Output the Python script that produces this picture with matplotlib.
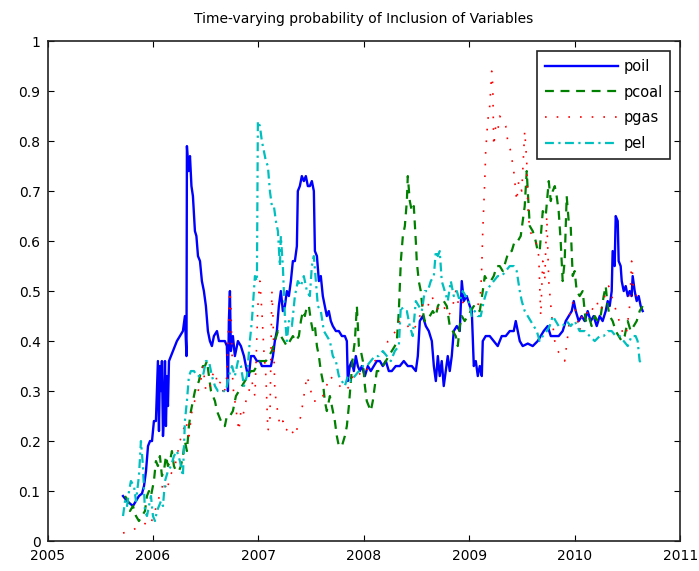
import numpy as np
import matplotlib
matplotlib.use("Agg")
import matplotlib.pyplot as plt

# valores (anio decimal, probabilidad)
poil_t = [2005.716, 2005.754, 2005.782, 2005.810, 2005.839, 2005.867, 2005.896, 2005.915, 2005.934, 2005.953,
          2005.972, 2005.991, 2006.009, 2006.028, 2006.047, 2006.057, 2006.066, 2006.076, 2006.085, 2006.095,
          2006.104, 2006.114, 2006.123, 2006.133, 2006.142, 2006.152, 2006.171, 2006.190, 2006.209, 2006.227,
          2006.256, 2006.284, 2006.303, 2006.318, 2006.322, 2006.337, 2006.351, 2006.365, 2006.379, 2006.398,
          2006.412, 2006.427, 2006.446, 2006.464, 2006.483, 2006.502, 2006.521, 2006.540, 2006.559, 2006.578,
          2006.607, 2006.626, 2006.654, 2006.682, 2006.701, 2006.711, 2006.720, 2006.730, 2006.739, 2006.758,
          2006.777, 2006.806, 2006.834, 2006.863, 2006.891, 2006.910, 2006.929, 2006.957, 2006.986, 2007.014,
          2007.033, 2007.062, 2007.090, 2007.119, 2007.138, 2007.156, 2007.175, 2007.194, 2007.213, 2007.232,
          2007.251, 2007.270, 2007.289, 2007.308, 2007.327, 2007.346, 2007.365, 2007.374, 2007.393, 2007.412,
          2007.431, 2007.450, 2007.469, 2007.488, 2007.507, 2007.526, 2007.536, 2007.555, 2007.574, 2007.592,
          2007.611, 2007.630, 2007.649, 2007.668, 2007.687, 2007.706, 2007.735, 2007.763, 2007.792, 2007.820,
          2007.839, 2007.848, 2007.867, 2007.886, 2007.905, 2007.924, 2007.943, 2007.962, 2007.981, 2008.010,
          2008.038, 2008.066, 2008.095, 2008.123, 2008.152, 2008.180, 2008.209, 2008.237, 2008.265, 2008.303,
          2008.341, 2008.379, 2008.417, 2008.455, 2008.493, 2008.512, 2008.531, 2008.559, 2008.588, 2008.616,
          2008.645, 2008.664, 2008.683, 2008.702, 2008.720, 2008.739, 2008.758, 2008.777, 2008.796, 2008.815,
          2008.834, 2008.853, 2008.882, 2008.910, 2008.929, 2008.948, 2008.976, 2009.005, 2009.024, 2009.043,
          2009.062, 2009.081, 2009.100, 2009.119, 2009.128, 2009.156, 2009.194, 2009.232, 2009.270, 2009.308,
          2009.346, 2009.384, 2009.422, 2009.441, 2009.460, 2009.479, 2009.507, 2009.555, 2009.602, 2009.649,
          2009.678, 2009.706, 2009.744, 2009.773, 2009.811, 2009.848, 2009.886, 2009.915, 2009.943, 2009.972,
          2009.991, 2010.010, 2010.038, 2010.066, 2010.095, 2010.123, 2010.152, 2010.180, 2010.209, 2010.237,
          2010.265, 2010.294, 2010.313, 2010.332, 2010.351, 2010.360, 2010.379, 2010.389, 2010.408, 2010.417,
          2010.436, 2010.446, 2010.465, 2010.484, 2010.503, 2010.521, 2010.540, 2010.550, 2010.569, 2010.588,
          2010.607, 2010.626, 2010.645]
poil_v = [0.09, 0.08, 0.075, 0.07, 0.08, 0.09, 0.095, 0.11, 0.14, 0.19,
          0.20, 0.20, 0.24, 0.24, 0.36, 0.22, 0.35, 0.30, 0.36, 0.21,
          0.25, 0.36, 0.23, 0.33, 0.27, 0.36, 0.37, 0.38, 0.39, 0.40,
          0.41, 0.42, 0.45, 0.37, 0.79, 0.74, 0.77, 0.71, 0.69, 0.62,
          0.61, 0.57, 0.56, 0.52, 0.50, 0.47, 0.42, 0.40, 0.39, 0.41,
          0.42, 0.40, 0.40, 0.40, 0.39, 0.30, 0.44, 0.50, 0.38, 0.41,
          0.37, 0.40, 0.39, 0.37, 0.34, 0.33, 0.37, 0.37, 0.36, 0.36,
          0.35, 0.35, 0.35, 0.35, 0.37, 0.40, 0.42, 0.47, 0.50, 0.46,
          0.47, 0.50, 0.49, 0.52, 0.56, 0.56, 0.59, 0.70, 0.71, 0.73,
          0.72, 0.73, 0.71, 0.71, 0.72, 0.70, 0.58, 0.57, 0.52, 0.53,
          0.49, 0.47, 0.45, 0.46, 0.44, 0.43, 0.42, 0.42, 0.41, 0.41,
          0.40, 0.32, 0.35, 0.36, 0.34, 0.37, 0.35, 0.34, 0.35, 0.33,
          0.35, 0.34, 0.35, 0.36, 0.36, 0.35, 0.36, 0.34, 0.34, 0.35,
          0.35, 0.36, 0.35, 0.35, 0.34, 0.37, 0.44, 0.45, 0.43, 0.42,
          0.40, 0.35, 0.32, 0.37, 0.33, 0.36, 0.31, 0.34, 0.37, 0.34,
          0.37, 0.42, 0.43, 0.42, 0.52, 0.48, 0.49, 0.47, 0.46, 0.35,
          0.36, 0.33, 0.35, 0.33, 0.40, 0.41, 0.41, 0.40, 0.39, 0.41,
          0.41, 0.42, 0.42, 0.44, 0.42, 0.40, 0.39, 0.395, 0.39, 0.40,
          0.41, 0.42, 0.43, 0.41, 0.41, 0.41, 0.42, 0.44, 0.45, 0.46,
          0.48, 0.46, 0.44, 0.45, 0.44, 0.46, 0.44, 0.45, 0.43, 0.45,
          0.44, 0.46, 0.48, 0.47, 0.50, 0.58, 0.55, 0.65, 0.64, 0.56,
          0.55, 0.52, 0.50, 0.51, 0.49, 0.50, 0.49, 0.53, 0.50, 0.48,
          0.49, 0.47, 0.46]

pcoal_t = [2005.735, 2005.763, 2005.782, 2005.810, 2005.839, 2005.867, 2005.896, 2005.924, 2005.943, 2005.962,
           2005.981, 2006.009, 2006.028, 2006.047, 2006.066, 2006.085, 2006.104, 2006.123, 2006.142, 2006.161,
           2006.180, 2006.199, 2006.218, 2006.246, 2006.265, 2006.284, 2006.303, 2006.322, 2006.341, 2006.360,
           2006.379, 2006.398, 2006.417, 2006.436, 2006.455, 2006.474, 2006.493, 2006.512, 2006.531, 2006.550,
           2006.569, 2006.588, 2006.607, 2006.626, 2006.645, 2006.664, 2006.682, 2006.701, 2006.730, 2006.758,
           2006.787, 2006.815, 2006.844, 2006.872, 2006.901, 2006.929, 2006.957, 2006.986, 2007.014, 2007.043,
           2007.071, 2007.100, 2007.128, 2007.156, 2007.185, 2007.213, 2007.242, 2007.270, 2007.299, 2007.327,
           2007.355, 2007.384, 2007.403, 2007.422, 2007.441, 2007.460, 2007.479, 2007.498, 2007.517, 2007.536,
           2007.555, 2007.574, 2007.592, 2007.611, 2007.630, 2007.649, 2007.678, 2007.697, 2007.725, 2007.744,
           2007.763, 2007.792, 2007.820, 2007.839, 2007.858, 2007.877, 2007.896, 2007.915, 2007.934, 2007.953,
           2007.972, 2007.991, 2008.010, 2008.028, 2008.047, 2008.066, 2008.085, 2008.104, 2008.123, 2008.152,
           2008.180, 2008.209, 2008.237, 2008.265, 2008.294, 2008.313, 2008.332, 2008.351, 2008.370, 2008.389,
           2008.408, 2008.417, 2008.436, 2008.455, 2008.474, 2008.493, 2008.502, 2008.521, 2008.540, 2008.559,
           2008.578, 2008.597, 2008.626, 2008.654, 2008.683, 2008.702, 2008.730, 2008.758, 2008.787, 2008.815,
           2008.844, 2008.872, 2008.891, 2008.910, 2008.929, 2008.957, 2008.986, 2009.014, 2009.043, 2009.071,
           2009.100, 2009.128, 2009.147, 2009.175, 2009.204, 2009.232, 2009.261, 2009.289, 2009.318, 2009.346,
           2009.374, 2009.403, 2009.431, 2009.460, 2009.488, 2009.507, 2009.526, 2009.545, 2009.555, 2009.574,
           2009.602, 2009.630, 2009.649, 2009.668, 2009.697, 2009.725, 2009.754, 2009.773, 2009.792, 2009.811,
           2009.829, 2009.848, 2009.867, 2009.886, 2009.905, 2009.924, 2009.943, 2009.962, 2009.981, 2010.000,
           2010.019, 2010.047, 2010.076, 2010.104, 2010.133, 2010.161, 2010.190, 2010.218, 2010.246, 2010.275,
           2010.294, 2010.313, 2010.332, 2010.360, 2010.389, 2010.417, 2010.446, 2010.474, 2010.503, 2010.531,
           2010.559, 2010.588, 2010.616, 2010.645]
pcoal_v = [0.09, 0.08, 0.06, 0.07, 0.05, 0.04, 0.05, 0.06, 0.09, 0.10,
           0.09, 0.12, 0.16, 0.15, 0.17, 0.13, 0.14, 0.17, 0.15, 0.16,
           0.18, 0.15, 0.14, 0.14, 0.15, 0.17, 0.20, 0.18, 0.23, 0.26,
           0.28, 0.30, 0.31, 0.32, 0.34, 0.35, 0.35, 0.36, 0.33, 0.30,
           0.29, 0.28, 0.26, 0.25, 0.24, 0.23, 0.23, 0.25, 0.25, 0.26,
           0.29, 0.30, 0.31, 0.32, 0.33, 0.34, 0.34, 0.35, 0.36, 0.36,
           0.36, 0.37, 0.38, 0.40, 0.42, 0.41, 0.40, 0.39, 0.40, 0.41,
           0.40, 0.41, 0.44, 0.46, 0.45, 0.47, 0.47, 0.44, 0.42, 0.43,
           0.39, 0.37, 0.34, 0.32, 0.28, 0.26, 0.29, 0.27, 0.24, 0.21,
           0.19, 0.19, 0.21, 0.23, 0.27, 0.32, 0.37, 0.40, 0.47, 0.39,
           0.38, 0.36, 0.31, 0.28, 0.27, 0.26, 0.28, 0.31, 0.34, 0.34,
           0.35, 0.36, 0.37, 0.38, 0.39, 0.40, 0.46, 0.56, 0.61, 0.63,
           0.68, 0.73, 0.68, 0.66, 0.67, 0.60, 0.56, 0.52, 0.50, 0.46,
           0.44, 0.44, 0.45, 0.46, 0.45, 0.47, 0.48, 0.48, 0.47, 0.43,
           0.42, 0.41, 0.39, 0.43, 0.45, 0.44, 0.45, 0.46, 0.47, 0.46,
           0.46, 0.50, 0.53, 0.52, 0.52, 0.53, 0.55, 0.55, 0.54, 0.56,
           0.58, 0.58, 0.60, 0.60, 0.61, 0.64, 0.67, 0.74, 0.70, 0.63,
           0.62, 0.60, 0.58, 0.58, 0.66, 0.65, 0.72, 0.68, 0.70, 0.71,
           0.69, 0.66, 0.60, 0.52, 0.56, 0.69, 0.64, 0.63, 0.53, 0.54,
           0.50, 0.49, 0.50, 0.44, 0.45, 0.43, 0.45, 0.44, 0.45, 0.49,
           0.51, 0.47, 0.45, 0.44, 0.42, 0.41, 0.40, 0.41, 0.44, 0.42,
           0.43, 0.44, 0.46, 0.47]

pgas_t = [2005.716, 2005.791, 2005.877, 2005.924, 2005.972, 2006.019, 2006.047, 2006.076, 2006.104, 2006.133,
          2006.161, 2006.209, 2006.256, 2006.284, 2006.313, 2006.341, 2006.370, 2006.408, 2006.446, 2006.474,
          2006.502, 2006.531, 2006.559, 2006.588, 2006.616, 2006.645, 2006.673, 2006.701, 2006.720, 2006.730,
          2006.739, 2006.758, 2006.777, 2006.796, 2006.815, 2006.834, 2006.853, 2006.882, 2006.910, 2006.938,
          2006.967, 2006.995, 2007.014, 2007.033, 2007.052, 2007.071, 2007.090, 2007.109, 2007.128, 2007.138,
          2007.156, 2007.175, 2007.204, 2007.232, 2007.261, 2007.289, 2007.318, 2007.346, 2007.374, 2007.403,
          2007.431, 2007.460, 2007.488, 2007.517, 2007.555, 2007.592, 2007.630, 2007.678, 2007.725, 2007.773,
          2007.820, 2007.867, 2007.896, 2007.934, 2007.981, 2008.019, 2008.057, 2008.104, 2008.152, 2008.199,
          2008.228, 2008.265, 2008.303, 2008.341, 2008.379, 2008.417, 2008.455, 2008.493, 2008.531, 2008.569,
          2008.607, 2008.645, 2008.683, 2008.720, 2008.758, 2008.796, 2008.834, 2008.872, 2008.901, 2008.929,
          2008.967, 2009.005, 2009.043, 2009.081, 2009.109, 2009.119, 2009.128, 2009.138, 2009.147, 2009.156,
          2009.175, 2009.194, 2009.213, 2009.223, 2009.232, 2009.251, 2009.270, 2009.289, 2009.318, 2009.346,
          2009.365, 2009.393, 2009.422, 2009.450, 2009.469, 2009.498, 2009.526, 2009.545, 2009.555, 2009.574,
          2009.602, 2009.630, 2009.659, 2009.678, 2009.697, 2009.716, 2009.735, 2009.754, 2009.782, 2009.811,
          2009.839, 2009.877, 2009.905, 2009.934, 2009.962, 2009.991, 2010.019, 2010.047, 2010.076, 2010.104,
          2010.142, 2010.180, 2010.209, 2010.237, 2010.265, 2010.294, 2010.322, 2010.351, 2010.379, 2010.408,
          2010.436, 2010.465, 2010.493, 2010.521, 2010.540, 2010.559, 2010.588]
pgas_v = [0.016, 0.02, 0.03, 0.035, 0.03, 0.06, 0.08, 0.10, 0.12, 0.10,
          0.13, 0.15, 0.20, 0.22, 0.24, 0.21, 0.26, 0.29, 0.31, 0.35,
          0.30, 0.30, 0.33, 0.34, 0.31, 0.32, 0.29, 0.33, 0.45, 0.50,
          0.47, 0.31, 0.28, 0.25, 0.22, 0.26, 0.25, 0.28, 0.30, 0.32,
          0.29, 0.47, 0.52, 0.46, 0.38, 0.33, 0.22, 0.24, 0.50, 0.45,
          0.30, 0.27, 0.23, 0.24, 0.22, 0.23, 0.22, 0.21, 0.23, 0.25,
          0.29, 0.33, 0.31, 0.28, 0.28, 0.28, 0.30, 0.33, 0.32, 0.31,
          0.30, 0.31, 0.33, 0.34, 0.33, 0.34, 0.35, 0.36, 0.37, 0.38,
          0.40, 0.41, 0.42, 0.44, 0.44, 0.43, 0.42, 0.43, 0.45, 0.48,
          0.47, 0.49, 0.47, 0.46, 0.47, 0.45, 0.46, 0.50, 0.47, 0.48,
          0.47, 0.46, 0.46, 0.47, 0.50, 0.55, 0.62, 0.67, 0.72, 0.78,
          0.84, 0.87, 0.94, 0.91, 0.79, 0.83, 0.82, 0.85, 0.84, 0.83,
          0.80, 0.78, 0.74, 0.68, 0.72, 0.70, 0.82, 0.76, 0.67, 0.62,
          0.61, 0.60, 0.57, 0.45, 0.56, 0.52, 0.65, 0.52, 0.45, 0.40,
          0.38, 0.37, 0.36, 0.41, 0.47, 0.48, 0.45, 0.42, 0.46, 0.46,
          0.45, 0.47, 0.48, 0.46, 0.47, 0.50, 0.51, 0.49, 0.47, 0.45,
          0.43, 0.41, 0.42, 0.47, 0.56, 0.50, 0.49]

pel_t = [2005.716, 2005.735, 2005.754, 2005.773, 2005.791, 2005.820, 2005.839, 2005.867, 2005.886, 2005.905,
         2005.924, 2005.943, 2005.962, 2005.981, 2006.000, 2006.019, 2006.038, 2006.057, 2006.076, 2006.095,
         2006.114, 2006.142, 2006.171, 2006.199, 2006.227, 2006.256, 2006.284, 2006.303, 2006.322, 2006.341,
         2006.360, 2006.389, 2006.417, 2006.446, 2006.474, 2006.502, 2006.531, 2006.559, 2006.588, 2006.616,
         2006.654, 2006.692, 2006.720, 2006.749, 2006.777, 2006.806, 2006.834, 2006.863, 2006.891, 2006.919,
         2006.938, 2006.948, 2006.967, 2006.986, 2006.995, 2007.014, 2007.033, 2007.052, 2007.071, 2007.090,
         2007.109, 2007.128, 2007.147, 2007.166, 2007.185, 2007.204, 2007.213, 2007.232, 2007.251, 2007.270,
         2007.289, 2007.318, 2007.346, 2007.374, 2007.403, 2007.431, 2007.460, 2007.488, 2007.507, 2007.526,
         2007.545, 2007.564, 2007.592, 2007.621, 2007.649, 2007.678, 2007.706, 2007.735, 2007.763, 2007.792,
         2007.820, 2007.848, 2007.877, 2007.915, 2007.953, 2007.991, 2008.028, 2008.066, 2008.104, 2008.142,
         2008.180, 2008.218, 2008.256, 2008.294, 2008.332, 2008.351, 2008.379, 2008.408, 2008.436, 2008.464,
         2008.493, 2008.521, 2008.550, 2008.578, 2008.607, 2008.635, 2008.664, 2008.683, 2008.702, 2008.720,
         2008.739, 2008.768, 2008.796, 2008.825, 2008.853, 2008.882, 2008.910, 2008.938, 2008.967, 2008.995,
         2009.024, 2009.052, 2009.081, 2009.109, 2009.138, 2009.166, 2009.194, 2009.232, 2009.270, 2009.308,
         2009.346, 2009.384, 2009.422, 2009.450, 2009.479, 2009.498, 2009.526, 2009.555, 2009.583, 2009.611,
         2009.640, 2009.668, 2009.697, 2009.735, 2009.763, 2009.792, 2009.820, 2009.848, 2009.886, 2009.924,
         2009.962, 2010.000, 2010.047, 2010.095, 2010.142, 2010.190, 2010.237, 2010.275, 2010.313, 2010.351,
         2010.389, 2010.427, 2010.465, 2010.503, 2010.540, 2010.578, 2010.597, 2010.616, 2010.645]
pel_v = [0.05, 0.08, 0.07, 0.10, 0.12, 0.11, 0.08, 0.13, 0.20, 0.15,
         0.06, 0.05, 0.07, 0.09, 0.05, 0.04, 0.06, 0.07, 0.08, 0.07,
         0.12, 0.14, 0.15, 0.17, 0.18, 0.16, 0.13, 0.24, 0.28, 0.33,
         0.34, 0.34, 0.33, 0.33, 0.33, 0.36, 0.36, 0.33, 0.31, 0.30,
         0.30, 0.30, 0.33, 0.35, 0.33, 0.36, 0.35, 0.31, 0.33, 0.40,
         0.44, 0.47, 0.53, 0.52, 0.84, 0.83, 0.80, 0.78, 0.76, 0.75,
         0.70, 0.67, 0.67, 0.64, 0.62, 0.55, 0.61, 0.55, 0.45, 0.40,
         0.44, 0.43, 0.49, 0.52, 0.51, 0.53, 0.50, 0.49, 0.55, 0.57,
         0.52, 0.47, 0.46, 0.42, 0.41, 0.40, 0.37, 0.36, 0.33, 0.32,
         0.31, 0.33, 0.32, 0.33, 0.34, 0.35, 0.35, 0.36, 0.37, 0.37,
         0.38, 0.37, 0.36, 0.38, 0.39, 0.47, 0.46, 0.46, 0.43, 0.41,
         0.48, 0.47, 0.46, 0.50, 0.50, 0.52, 0.53, 0.58, 0.57, 0.58,
         0.52, 0.50, 0.48, 0.52, 0.49, 0.50, 0.48, 0.50, 0.49, 0.48,
         0.45, 0.46, 0.45, 0.45, 0.48, 0.50, 0.51, 0.52, 0.53, 0.53,
         0.54, 0.55, 0.55, 0.54, 0.50, 0.48, 0.46, 0.45, 0.44, 0.43,
         0.42, 0.40, 0.41, 0.42, 0.43, 0.45, 0.44, 0.43, 0.43, 0.44,
         0.43, 0.44, 0.42, 0.42, 0.41, 0.40, 0.41, 0.41, 0.42, 0.42,
         0.41, 0.41, 0.40, 0.39, 0.41, 0.41, 0.40, 0.36, 0.355]

etiquetas = ["poil", "pcoal", "pgas", "pel"]
titulo = "Time-varying probability of Inclusion of Variables"

fig = plt.figure(figsize=(6.99, 5.71), dpi=100)
ax = fig.add_axes([0.068, 0.0525, 0.905, 0.8755])

ax.plot(poil_t, poil_v, color=(0, 0, 1), lw=1.7, label=etiquetas[0])
ax.plot(pcoal_t, pcoal_v, color=(0, 0.5, 0), lw=1.6, linestyle=(0, (4, 3)), label=etiquetas[1])
ax.plot(pgas_t, pgas_v, color=(1, 0, 0), lw=1.2, linestyle=(0, (1, 6)), label=etiquetas[2])
ax.plot(pel_t, pel_v, color=(0, 0.75, 0.75), lw=1.6, linestyle=(0, (4, 2, 1, 2)), label=etiquetas[3])

ax.set_xlim(2005, 2011)
ax.set_ylim(0, 1)
ax.set_xticks(range(2005, 2012))
ax.set_xticklabels([str(a) for a in range(2005, 2012)])
ax.set_yticks(np.arange(0, 1.01, 0.1))
ax.set_yticklabels(["0", "0.1", "0.2", "0.3", "0.4", "0.5", "0.6", "0.7", "0.8", "0.9", "1"])
ax.tick_params(direction="in", top=True, right=True, length=4, labelsize=10)
ax.tick_params(axis="x", pad=6)
ax.tick_params(axis="y", pad=5)
for s in ax.spines.values():
    s.set_linewidth(1.2)
    s.set_color("#222222")

ax.set_title(titulo, fontsize=10, pad=13)

leg = ax.legend(loc="upper right", fancybox=False, framealpha=1, edgecolor="#222222",
                handlelength=5.0, fontsize=10.5, borderaxespad=0.7, labelspacing=0.75,
                handletextpad=0.4, borderpad=0.5)
leg.get_frame().set_linewidth(1.2)

fig.savefig("out.png", dpi=100)
